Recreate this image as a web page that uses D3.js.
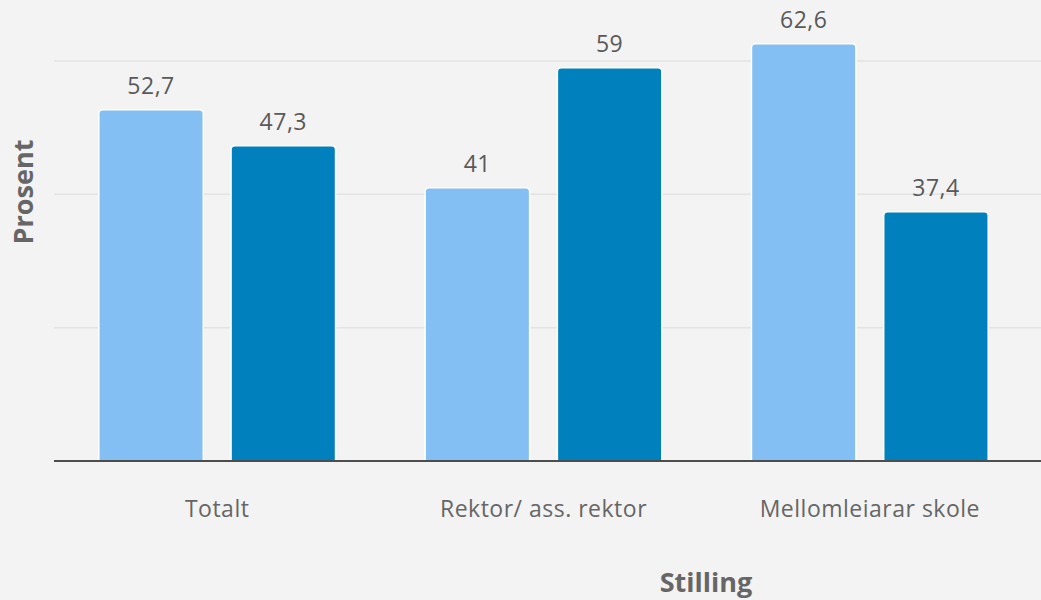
<!DOCTYPE html>
<html><head><meta charset="utf-8">
<script src="https://cdn.jsdelivr.net/npm/d3@7"></script>
<style>html,body{margin:0;padding:0;background:#f3f3f3;}svg{display:block;}</style>
</head><body>
<script>
const categories = ["Totalt", "Rektor/ ass. rektor", "Mellomleiarar skole"];
const seriesA = [52.7, 41, 62.6];
const seriesB = [47.3, 59, 37.4];
const yTicks = [0, 20, 40, 60];
const xTitle = "Stilling";
const yTitle = "Prosent";

const W = 1041, H = 600;
const svg = d3.select("body").append("svg").attr("width", W).attr("height", H);
svg.append("rect").attr("width", W).attr("height", H).attr("fill", "#f3f3f3");

const left = 54, right = 1041, bandRight = 1033, baseY = 461, topY = 61;
const x = d3.scaleBand().domain(categories).range([left, bandRight]).paddingInner(0).paddingOuter(0);
const y = d3.scaleLinear().domain([0, 60]).range([baseY, topY]);
const sub = d3.scaleBand().domain(["A", "B"]).range([44.8, x.bandwidth() - 44.8]).paddingInner(0.21);

const font = "'Open Sans', sans-serif";

// gridlines
svg.append("g").selectAll("line").data(yTicks.filter(d => d > 0)).join("line")
  .attr("x1", left).attr("x2", right)
  .attr("y1", d => y(d)).attr("y2", d => y(d))
  .attr("stroke", "#e3e3e3").attr("stroke-width", 1.5);

const data = [];
categories.forEach((c, i) => {
  data.push({c, k: "A", v: seriesA[i], color: "#83bff2"});
  data.push({c, k: "B", v: seriesB[i], color: "#0080bc"});
});

function barPath(x0, y0, w, h, r) {
  return `M${x0},${y0 + h}V${y0 + r}Q${x0},${y0} ${x0 + r},${y0}H${x0 + w - r}Q${x0 + w},${y0} ${x0 + w},${y0 + r}V${y0 + h}Z`;
}

svg.append("g").selectAll("path").data(data).join("path")
  .attr("d", d => {
    const x0 = x(d.c) + sub(d.k);
    const y0 = y(d.v);
    return barPath(x0, y0, sub.bandwidth(), y(0) - y0, 4);
  })
  .attr("fill", d => d.color)
  .attr("stroke", "#ffffff").attr("stroke-width", 1.5);

// value labels
svg.append("g").selectAll("text").data(data).join("text")
  .attr("x", d => x(d.c) + sub(d.k) + sub.bandwidth() / 2)
  .attr("y", d => y(d.v) - 16)
  .attr("text-anchor", "middle")
  .attr("font-family", font).attr("font-size", 23).attr("letter-spacing", 0.5).attr("fill", "#595959")
  .text(d => String(d.v).replace(".", ","));

// baseline axis
const xAxis = d3.axisBottom(x).tickSize(0).tickPadding(0);
const gx = svg.append("g").attr("transform", `translate(0,${baseY})`).call(xAxis);
gx.select(".domain").attr("stroke", "#4d4d4d").attr("stroke-width", 2).attr("d", `M${left},0H${right}`);
gx.selectAll("text").attr("font-family", font).attr("font-size", 23).attr("letter-spacing", 0.5).attr("fill", "#666")
  .attr("dy", 0).attr("y", 56);

// axis titles
svg.append("text").attr("x", 706).attr("y", 592).attr("text-anchor", "middle")
  .attr("font-family", font).attr("font-weight", "bold").attr("font-size", 27).attr("fill", "#666")
  .text(xTitle);
svg.append("text").attr("transform", "translate(33,192) rotate(-90)").attr("text-anchor", "middle")
  .attr("font-family", font).attr("font-weight", "bold").attr("font-size", 27).attr("fill", "#666")
  .text(yTitle);
</script>
</body></html>
